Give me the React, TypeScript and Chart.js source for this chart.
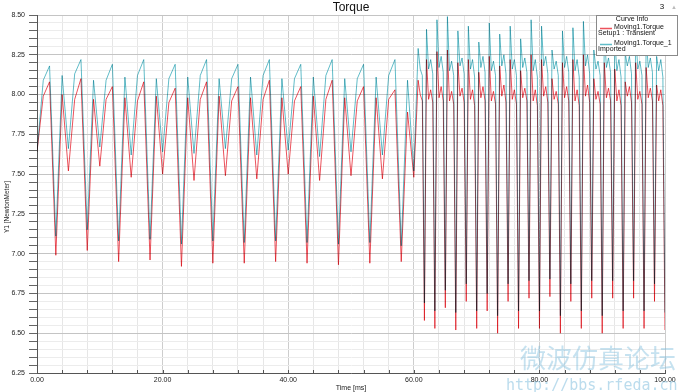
import { useEffect, useRef } from "react";
import { Chart, registerables } from "chart.js";

Chart.register(...registerables);

const TITLE = "Torque";
const X_TITLE = "Time [ms]";
const Y_TITLE = "Y1 [NewtonMeter]";
const LEGEND_TITLE = "Curve Info";
const SERIES_NAMES = ["Moving1.Torque", "Moving1.Torque_1"];
const SERIES_SOURCES = ["Setup1 : Transient", "Imported"];
const CORNER_LABEL = "3";
const WATERMARK_CN = "微波仿真论坛";
const WATERMARK_URL = "http://bbs.rfeda.cn";

const X_MIN = 0;
const X_MAX = 100;
const X_STEP = 4;
const X_LABEL_EVERY = 20;
const Y_MIN = 6.25;
const Y_MAX = 8.5;
const Y_STEP = 0.05;
const Y_LABEL_EVERY = 0.25;

// ---- Phase 1 (0 .. 60 ms), sampled every 1 ms ----
const P1_STEP_MS = 1;
const p1StartRed = 7.64;
const p1StartCyan = 7.64;
// per 5 ms cycle: rise, peak, deep dip, high, shallow dip
const p1RiseRed = [7.99, 7.97, 7.97, 7.96, 7.95, 7.97, 7.96, 7.97, 7.96, 7.97, 7.96, 7.97];
const p1RiseCyan = [8.09, 8.13, 8.09, 8.12, 8.1, 8.12, 8.1, 8.12, 8.1, 8.12, 8.1, 8.12];
const p1PeakRed = [8.08, 8.1, 8.05, 8.08, 8.04, 8.08, 8.05, 8.09, 8.05, 8.09, 8.05, 8.03];
const p1PeakCyan = [8.18, 8.22, 8.19, 8.22, 8.19, 8.22, 8.19, 8.22, 8.19, 8.22, 8.19, 8.22];
const p1DeepRed = [6.99, 7.02, 6.95, 6.96, 6.92, 6.94, 6.94, 6.95, 6.94, 6.93, 6.94, 6.95];
const p1DeepCyan = [7.11, 7.15, 7.08, 7.09, 7.06, 7.08, 7.07, 7.08, 7.07, 7.06, 7.07, 7.05];
const p1HighRed = [8.0, 7.97, 7.98, 7.99, 7.98, 7.99, 7.98, 7.98, 7.99, 7.98, 7.98, 7.89];
const p1HighCyan = [8.12, 8.09, 8.11, 8.1, 8.11, 8.1, 8.11, 8.1, 8.11, 8.1, 8.11, 8.09];
const p1ShallowRed = [7.52, 7.55, 7.48, 7.5, 7.46, 7.49, 7.47, 7.5, 7.46, 7.49, 7.47, 7.48];
const p1ShallowCyan = [7.66, 7.67, 7.62, 7.64, 7.63, 7.66, 7.62, 7.65, 7.61, 7.64, 7.62, 7.52];

// ---- Phase 2 (60.69 .. 100 ms) ----
const P2_START_MS = 60.69;
const P2_STEP_MS = 0.3331;
const p2LeadRed = [8.09, 8.0, 7.96];
const p2LeadCyan = [8.29, 8.16, 8.12];
// per cycle: dip, peak, shoulder1, shoulder2, shoulder3
const p2DipRed = [6.58, 6.53, 6.66, 6.52, 6.7, 6.53, 6.64, 6.5, 6.7, 6.53, 6.72, 6.53, 6.73, 6.5, 6.7, 6.53, 6.72, 6.5, 6.72, 6.53, 6.72, 6.53, 6.7, 6.52];
const p2DipCyan = [6.69, 6.64, 6.77, 6.63, 6.81, 6.64, 6.75, 6.61, 6.81, 6.64, 6.83, 6.64, 6.84, 6.61, 6.81, 6.64, 6.83, 6.61, 6.83, 6.64, 6.83, 6.64, 6.81, 6.63];
const p2PeakRed = [8.22, 8.27, 8.28, 8.2, 8.22, 8.14, 8.24, 8.18, 8.22, 8.15, 8.25, 8.22, 8.1, 8.2, 8.22, 8.25, 8.1, 8.2, 8.16, 8.08, 8.2, 8.17, 8.06];
const p2PeakCyan = [8.41, 8.47, 8.49, 8.4, 8.43, 8.33, 8.45, 8.38, 8.43, 8.35, 8.47, 8.43, 8.28, 8.4, 8.42, 8.46, 8.28, 8.4, 8.35, 8.26, 8.4, 8.36, 8.24];
const p2S1Red = [7.97, 7.98, 7.96, 7.99, 7.97, 7.98, 7.96, 7.99, 7.97, 7.98, 7.96, 7.99, 7.97, 7.98, 7.96, 7.99, 7.97, 7.98, 7.96, 7.99, 7.97, 7.98, 7.96];
const p2S1Cyan = [8.16, 8.17, 8.15, 8.18, 8.16, 8.17, 8.15, 8.18, 8.16, 8.17, 8.15, 8.18, 8.16, 8.17, 8.15, 8.18, 8.16, 8.17, 8.15, 8.18, 8.16, 8.17, 8.15];
const p2S2Red = [8.03, 8.05, 8.02, 8.04, 8.03, 8.05, 8.02, 8.06, 8.03, 8.04, 8.03, 8.05, 8.02, 8.05, 8.03, 8.06, 8.02, 8.04, 8.03, 8.05, 8.02, 8.04, 8.03];
const p2S2Cyan = [8.22, 8.24, 8.21, 8.23, 8.22, 8.24, 8.21, 8.25, 8.22, 8.23, 8.22, 8.24, 8.21, 8.24, 8.22, 8.25, 8.21, 8.23, 8.22, 8.24, 8.21, 8.23, 8.22];
const p2S3Red = [7.95, 7.96, 7.94, 7.95, 7.93, 7.96, 7.94, 7.95, 7.94, 7.96, 7.93, 7.95, 7.94, 7.96, 7.93, 7.95, 7.94, 7.96, 7.93, 7.95, 7.94, 7.96, 7.93];
const p2S3Cyan = [8.13, 8.14, 8.12, 8.13, 8.11, 8.14, 8.12, 8.13, 8.12, 8.14, 8.11, 8.13, 8.12, 8.14, 8.11, 8.13, 8.12, 8.14, 8.11, 8.13, 8.12, 8.14, 8.11];

type Pt = { x: number; y: number };

function buildSeries(red: boolean): Pt[] {
  const out: Pt[] = [];
  const v1: number[] = [red ? p1StartRed : p1StartCyan];
  const rise = red ? p1RiseRed : p1RiseCyan;
  const peak = red ? p1PeakRed : p1PeakCyan;
  const deep = red ? p1DeepRed : p1DeepCyan;
  const high = red ? p1HighRed : p1HighCyan;
  const shallow = red ? p1ShallowRed : p1ShallowCyan;
  for (let k = 0; k < rise.length; k++) {
    v1.push(rise[k], peak[k], deep[k], high[k], shallow[k]);
  }
  v1.forEach((v, i) => out.push({ x: i * P1_STEP_MS, y: v }));

  const v2: number[] = [...(red ? p2LeadRed : p2LeadCyan)];
  const dip = red ? p2DipRed : p2DipCyan;
  const pk = red ? p2PeakRed : p2PeakCyan;
  const s1 = red ? p2S1Red : p2S1Cyan;
  const s2 = red ? p2S2Red : p2S2Cyan;
  const s3 = red ? p2S3Red : p2S3Cyan;
  for (let k = 0; k < pk.length; k++) {
    v2.push(dip[k], pk[k], s1[k], s2[k], s3[k]);
  }
  v2.push(dip[dip.length - 1]);
  v2.forEach((v, i) => out.push({ x: Math.min(X_MAX, P2_START_MS + i * P2_STEP_MS), y: v }));
  return out;
}

const FONT = "'Liberation Sans', Arial, sans-serif";
const RED = "rgb(236, 82, 92)";
const CYAN = "rgb(96, 188, 200)";

const isMultiple = (v: number, m: number) => Math.abs(v / m - Math.round(v / m)) < 1e-6;

export default function App() {
  const ref = useRef<HTMLCanvasElement | null>(null);

  useEffect(() => {
    if (!ref.current) return;
    const blend = {
      id: "blend",
      beforeDatasetsDraw(chart: any) {
        chart.ctx.save();
        chart.ctx.globalCompositeOperation = "multiply";
      },
      afterDatasetsDraw(chart: any) {
        chart.ctx.restore();
      },
    };
    const deco = {
      id: "deco",
      afterDraw(chart: any) {
        const ctx = chart.ctx as CanvasRenderingContext2D;
        const { left, right, bottom } = chart.chartArea;
        const xs = chart.scales.x;
        ctx.save();
        // x tick marks (inside)
        ctx.strokeStyle = "#555";
        ctx.lineWidth = 1;
        for (let v = X_MIN; v <= X_MAX + 1e-9; v += X_STEP) {
          const px = Math.round(xs.getPixelForValue(v)) + 0.5;
          ctx.beginPath();
          ctx.moveTo(px, bottom - 3);
          ctx.lineTo(px, bottom);
          ctx.stroke();
        }
        // y axis title
        ctx.save();
        ctx.translate(7, 207);
        ctx.rotate(-Math.PI / 2);
        ctx.fillStyle = "#222";
        ctx.font = `6.5px ${FONT}`;
        ctx.textAlign = "center";
        ctx.textBaseline = "middle";
        ctx.fillText(Y_TITLE, 0, 0);
        ctx.restore();
        // title
        ctx.fillStyle = "#111";
        ctx.font = `12px ${FONT}`;
        ctx.textAlign = "center";
        ctx.textBaseline = "middle";
        ctx.fillText(TITLE, (left + right) / 2, 8);
        ctx.font = `8px ${FONT}`;
        ctx.fillText(CORNER_LABEL, 662, 7);
        ctx.fillStyle = "#bbb";
        ctx.font = `6px ${FONT}`;
        ctx.fillText("▲", 674, 7);

        // legend box
        const bx = 596.5, by = 15.5, bw = 81, bh = 40;
        ctx.fillStyle = "#fff";
        ctx.fillRect(bx, by, bw, bh);
        ctx.strokeStyle = "#8a8a8a";
        ctx.strokeRect(bx, by, bw, bh);
        ctx.fillStyle = "#111";
        ctx.font = `7px ${FONT}`;
        ctx.textAlign = "center";
        ctx.fillText(LEGEND_TITLE, 632, 19.5);
        ctx.textAlign = "left";
        ctx.strokeStyle = RED;
        ctx.lineWidth = 1.5;
        ctx.beginPath();
        ctx.moveTo(600, 28.5);
        ctx.lineTo(612, 28.5);
        ctx.stroke();
        ctx.fillText(SERIES_NAMES[0], 614, 27.5);
        ctx.fillText(SERIES_SOURCES[0], 598, 33.5);
        ctx.strokeStyle = CYAN;
        ctx.beginPath();
        ctx.moveTo(600, 44.5);
        ctx.lineTo(612, 44.5);
        ctx.stroke();
        ctx.fillText(SERIES_NAMES[1], 614, 43);
        ctx.fillText(SERIES_SOURCES[1], 598, 49.5);

        // watermark
        ctx.fillStyle = "rgba(120, 185, 220, 0.42)";
        ctx.font = `26px 'Noto Sans CJK SC', sans-serif`;
        ctx.textAlign = "left";
        ctx.textBaseline = "alphabetic";
        ctx.fillText(WATERMARK_CN, 520, 368);
        ctx.font = `15px 'DejaVu Sans Mono', monospace`;
        ctx.fillStyle = "rgba(120, 185, 220, 0.5)";
        ctx.fillText(WATERMARK_URL, 506, 390);
        ctx.restore();
      },
    };

    const chart = new Chart(ref.current, {
      type: "line",
      data: {
        datasets: [
          {
            label: SERIES_NAMES[0],
            data: buildSeries(true),
            borderColor: RED,
            borderWidth: 1,
            pointRadius: 0,
            tension: 0,
          },
          {
            label: SERIES_NAMES[1],
            data: buildSeries(false),
            borderColor: CYAN,
            borderWidth: 1,
            pointRadius: 0,
            tension: 0,
          },
        ],
      },
      options: {
        animation: false,
        responsive: false,
        devicePixelRatio: 1,
        layout: { padding: { top: 15, right: 20, left: 0, bottom: 0 } },
        plugins: {
          legend: { display: false },
          tooltip: { enabled: false },
          title: { display: false },
        },
        scales: {
          x: {
            type: "linear",
            min: X_MIN,
            max: X_MAX,
            afterFit: (s: any) => {
              s.height = 19;
            },
            ticks: {
              stepSize: X_STEP,
              autoSkip: false,
              maxRotation: 0,
              padding: 3,
              color: "#222",
              font: { family: FONT, size: 7 },
              callback: (v: any) => (isMultiple(Number(v), X_LABEL_EVERY) ? Number(v).toFixed(2) : ""),
            },
            grid: {
              drawTicks: false,
              color: (c: any) =>
                c.tick && isMultiple(c.tick.value, X_LABEL_EVERY) ? "#cdcdcd" : "#e6e6e6",
            },
            border: { color: "#555", width: 1 },
            title: {
              display: true,
              text: X_TITLE,
              color: "#222",
              font: { family: FONT, size: 7 },
              padding: 0,
            },
          },
          y: {
            type: "linear",
            min: Y_MIN,
            max: Y_MAX,
            afterFit: (s: any) => {
              s.width = 37;
            },
            ticks: {
              stepSize: Y_STEP,
              autoSkip: false,
              maxTicksLimit: 100,
              padding: 4,
              color: "#222",
              font: { family: FONT, size: 7 },
              callback: (v: any) => (isMultiple(Number(v), Y_LABEL_EVERY) ? Number(v).toFixed(2) : ""),
            },
            grid: {
              drawTicks: true,
              tickLength: 8,
              tickColor: "#666",
              color: (c: any) =>
                c.tick && isMultiple(c.tick.value, Y_LABEL_EVERY) ? "#c4c4c4" : "#ececec",
            },
            border: { color: "#555", width: 1 },
            title: { display: false },
          },
        },
      },
      plugins: [blend, deco],
    });
    return () => chart.destroy();
  }, []);

  return (
    <div style={{ position: "fixed", left: 0, top: 0, width: 685, height: 392, background: "#fff" }}>
      <canvas ref={ref} width={685} height={392} />
    </div>
  );
}
